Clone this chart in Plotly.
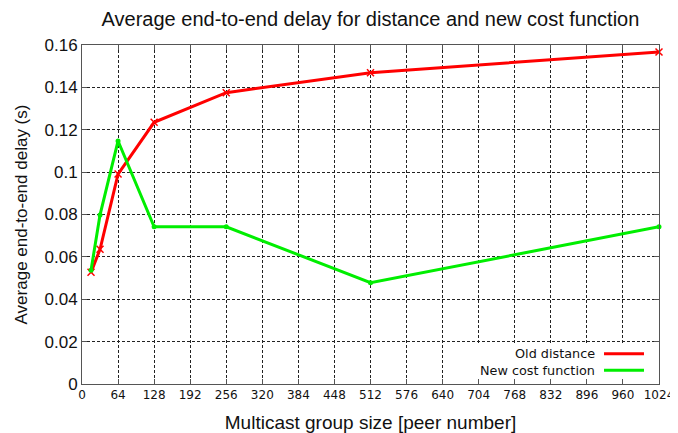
import plotly.graph_objects as go

group_size = [16, 32, 64, 128, 256, 512, 1024]
old_distance = [0.0527, 0.0636, 0.0991, 0.1235, 0.1375, 0.1469, 0.1567]
new_cost = [0.0537, 0.0798, 0.1147, 0.0742, 0.0742, 0.0478, 0.0742]
x_ticks = list(range(0, 1025, 64))
y_ticks = [0, 0.02, 0.04, 0.06, 0.08, 0.1, 0.12, 0.14, 0.16]
y_tick_text = ["0", "0.02", "0.04", "0.06", "0.08", "0.1", "0.12", "0.14", "0.16"]
series_names = ["Old distance", "New cost function"]
colors = ["#ff0000", "#00ee00"]

fig = go.Figure()
fig.add_trace(go.Scatter(x=group_size, y=old_distance, mode="lines+markers", name=series_names[0],
                         line=dict(color=colors[0], width=3),
                         marker=dict(symbol="x-thin", size=7, line=dict(color=colors[0], width=1.5)),
                         showlegend=False, cliponaxis=False))
fig.add_trace(go.Scatter(x=group_size, y=new_cost, mode="lines+markers", name=series_names[1],
                         line=dict(color=colors[1], width=3),
                         marker=dict(symbol="circle", size=5, color=colors[1]),
                         showlegend=False, cliponaxis=False))

axis_common = dict(showline=True, linecolor="#555555", linewidth=1, mirror="ticks",
                   ticks="inside", ticklen=5, tickcolor="#555555",
                   showgrid=True, gridcolor="#222222", griddash="3px,2px", gridwidth=1,
                   zeroline=False, automargin=False)

# the page body adds an 8px offset, so the figure is 8px smaller than the window
W, H = 670, 425
fig.update_layout(
    width=W, height=H,
    margin=dict(l=74, r=19, t=37, b=49, autoexpand=False),
    paper_bgcolor="white", plot_bgcolor="white",
    font=dict(family="Liberation Sans, Arial, sans-serif", color="#111111"),
    title=dict(text="Average end-to-end delay for distance and new cost function",
               xref="paper", x=0.5, xanchor="center",
               yref="container", y=1 - 11 / H, yanchor="middle",
               font=dict(size=20, family="Liberation Sans, Arial, sans-serif")),
    xaxis=dict(range=[0, 1024], tickvals=x_ticks, ticktext=[str(v) for v in x_ticks],
               tickfont=dict(size=12, family="DejaVu Sans"),
               title=dict(text="Multicast group size [peer number]", font=dict(size=19), standoff=15),
               **axis_common),
    yaxis=dict(range=[0, 0.16], tickvals=y_ticks, ticktext=y_tick_text,
               tickfont=dict(size=17),
               title=dict(text="Average end-to-end delay (s)", font=dict(size=17), standoff=12),
               **axis_common),
)

# opaque key box (covers the grid, as in the gnuplot original); leaves the bottom ticks visible
fig.add_shape(type="rect", xref="paper", yref="paper", x0=0.672, x1=0.998, y0=0.016, y1=0.121,
              fillcolor="white", line=dict(width=0), layer="above")

# custom legend (text right, sample on right, gnuplot style)
legend_y = [0.0894, 0.0404]
for i, (name, col) in enumerate(zip(series_names, colors)):
    fig.add_annotation(xref="paper", yref="paper", x=0.8925, y=legend_y[i], text=name,
                       showarrow=False, xanchor="right", yanchor="middle",
                       font=dict(size=12.8, family="DejaVu Sans", color="#111111"))
    fig.add_shape(type="line", xref="paper", yref="paper", x0=0.9047, x1=0.974,
                  y0=legend_y[i], y1=legend_y[i], line=dict(color=col, width=3), layer="above")

fig.write_html("out.html")
